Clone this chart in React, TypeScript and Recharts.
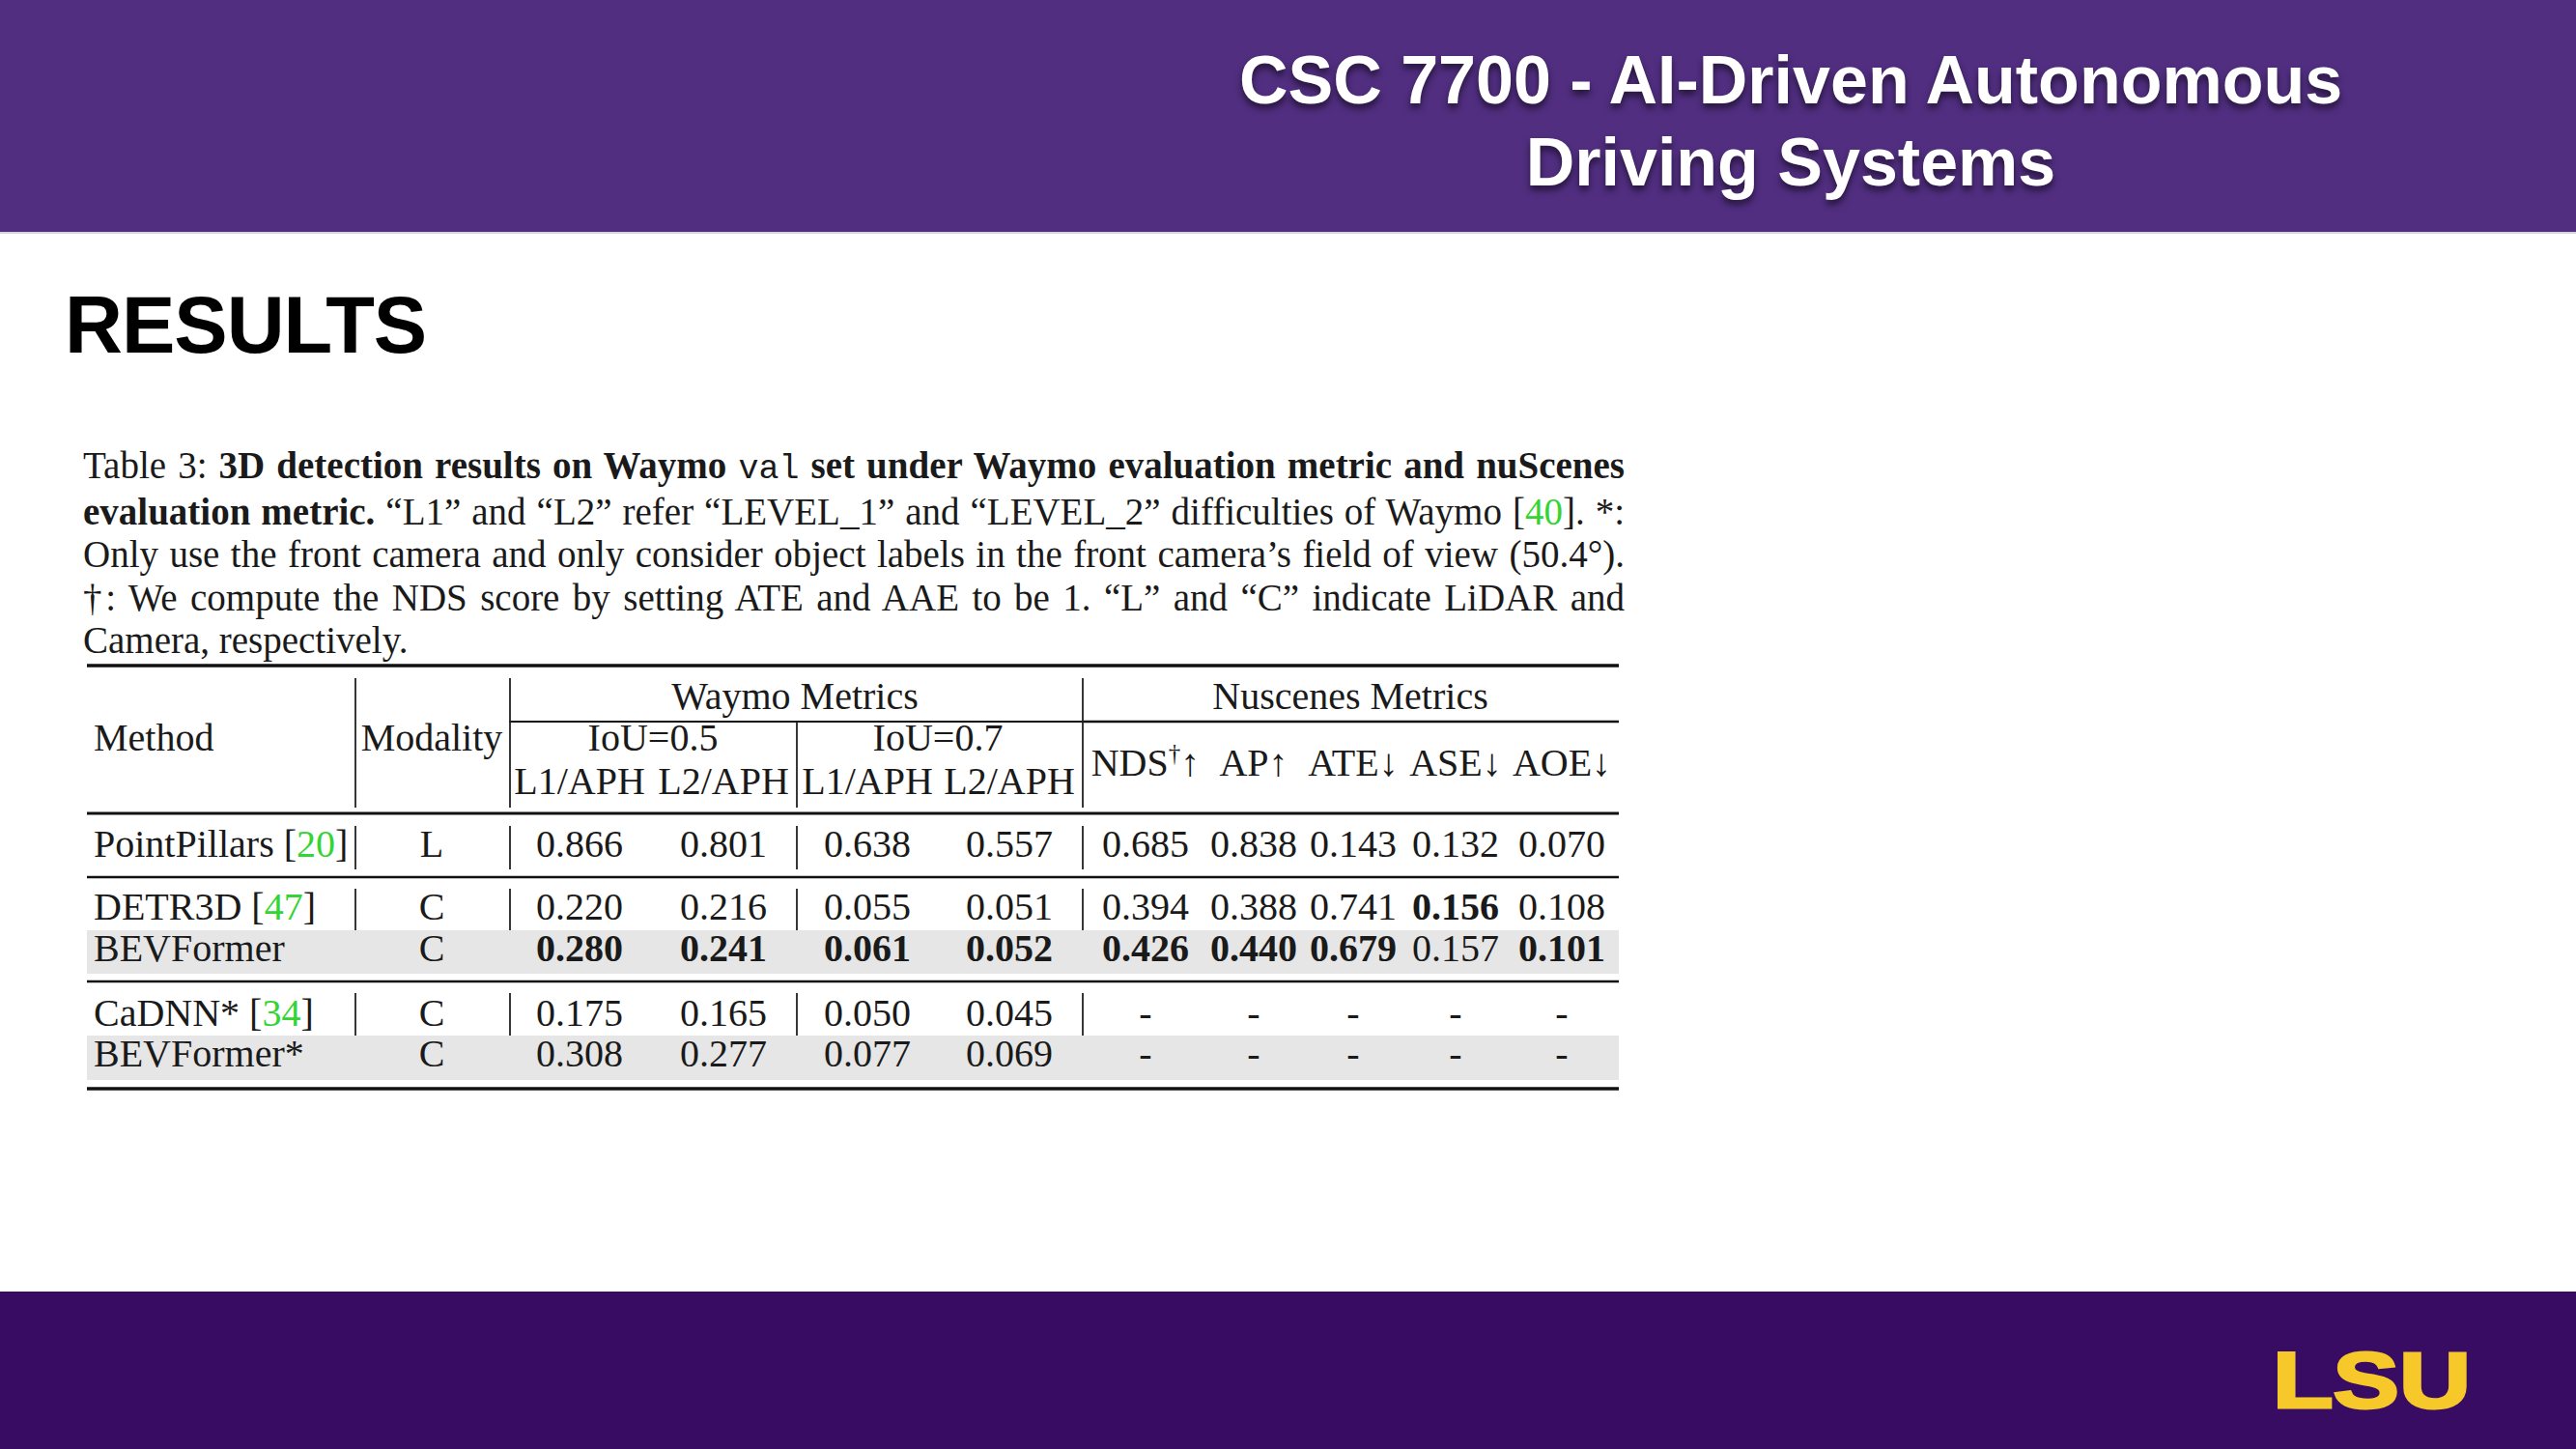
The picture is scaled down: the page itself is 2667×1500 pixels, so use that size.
import React from "react";
import {
  ScatterChart,
  Scatter,
  XAxis,
  YAxis,
  ReferenceLine,
  ReferenceArea,
} from "recharts";

// table rows
const methods = ["PointPillars", "DETR3D", "BEVFormer", "CaDNN*", "BEVFormer*"];
const citations = ["20", "47", "", "34", ""];
const modalities = ["L", "C", "C", "C", "C"];

// Waymo metrics
const l1Iou05 = [0.866, 0.22, 0.28, 0.175, 0.308];
const l2Iou05 = [0.801, 0.216, 0.241, 0.165, 0.277];
const l1Iou07 = [0.638, 0.055, 0.061, 0.05, 0.077];
const l2Iou07 = [0.557, 0.051, 0.052, 0.045, 0.069];

// nuScenes metrics (null = "-")
const ndsScores = [0.685, 0.394, 0.426, null, null];
const apScores = [0.838, 0.388, 0.44, null, null];
const ateScores = [0.143, 0.741, 0.679, null, null];
const aseScores = [0.132, 0.156, 0.157, null, null];
const aoeScores = [0.07, 0.108, 0.101, null, null];

const metricSeries = [l1Iou05, l2Iou05, l1Iou07, l2Iou07, ndsScores, apScores, ateScores, aseScores, aoeScores];
// row printed in bold for each metric column
const bestRow = [2, 2, 2, 2, 2, 2, 2, 1, 2];

const subHeaders = ["L1/APH", "L2/APH", "L1/APH", "L2/APH"];
const nuscHeaders = [
  { name: "NDS", sup: "†", arrow: "↑" },
  { name: "AP", sup: "", arrow: "↑" },
  { name: "ATE", sup: "", arrow: "↓" },
  { name: "ASE", sup: "", arrow: "↓" },
  { name: "AOE", sup: "", arrow: "↓" },
];

// layout (page pixels)
const W = 2667;
const H = 1500;
const SERIF = "'Liberation Serif', 'Times New Roman', serif";
const SANS = "'Liberation Sans', Arial, Helvetica, sans-serif";
const FS = 40;
const METHOD_X = 97;
const MODALITY_X = 447;
const COL_X = [600, 749, 898, 1045, 1186, 1298, 1401, 1507, 1617];
const ROW_Y = [873, 938, 981, 1048, 1090];
const TABLE_L = 90;
const TABLE_R = 1676;
const GREEN = "#35d435";

type Cell = {
  x: number;
  y: number;
  text: string;
  bold?: boolean;
  anchor?: "start" | "middle" | "end";
  cite?: string;
  sup?: string;
  arrow?: string;
};

const headerCells: Cell[] = [
  { x: METHOD_X, y: 763, text: "Method", anchor: "start" },
  { x: MODALITY_X, y: 763, text: "Modality" },
  { x: 823, y: 720, text: "Waymo Metrics" },
  { x: 1398, y: 720, text: "Nuscenes Metrics" },
  { x: 676, y: 763, text: "IoU=0.5" },
  { x: 971, y: 763, text: "IoU=0.7" },
  ...subHeaders.map((t, i) => ({ x: COL_X[i], y: 808, text: t })),
  ...nuscHeaders.map((h, i) => ({ x: COL_X[i + 4], y: 789, text: h.name, sup: h.sup, arrow: h.arrow })),
];

const bodyCells: Cell[] = methods.flatMap((m, r) => [
  { x: METHOD_X, y: ROW_Y[r], text: m, cite: citations[r], anchor: "start" as const },
  { x: MODALITY_X, y: ROW_Y[r], text: modalities[r] },
  ...metricSeries.map((s, c) => ({
    x: COL_X[c],
    y: ROW_Y[r],
    text: s[r] == null ? "-" : (s[r] as number).toFixed(3),
    bold: bestRow[c] === r,
  })),
]);

const TableText = (props: any) => {
  const { cx, cy, payload } = props;
  const c = payload as Cell;
  return (
    <text
      x={cx}
      y={cy}
      dy={13.5}
      textAnchor={c.anchor || "middle"}
      fontFamily={SERIF}
      fontSize={FS}
      fontWeight={c.bold ? 700 : 400}
      fill="#1a1a1a"
    >
      {c.text}
      {c.cite ? " [" : null}
      {c.cite ? <tspan fill={GREEN}>{c.cite}</tspan> : null}
      {c.cite ? "]" : null}
      {c.sup ? (
        <tspan dy={-15} fontSize={25}>
          {c.sup}
        </tspan>
      ) : null}
      {c.arrow ? <tspan dy={c.sup ? 15 : 0}>{c.arrow}</tspan> : null}
    </text>
  );
};

const hRules = [
  { y: 689, x1: TABLE_L, x2: TABLE_R, w: 3.5 },
  { y: 747, x1: 527, x2: 1121, w: 2 },
  { y: 747, x1: 1121, x2: TABLE_R, w: 2.5 },
  { y: 842, x1: TABLE_L, x2: TABLE_R, w: 3 },
  { y: 908, x1: TABLE_L, x2: TABLE_R, w: 2.5 },
  { y: 1016, x1: TABLE_L, x2: TABLE_R, w: 2.5 },
  { y: 1127, x1: TABLE_L, x2: TABLE_R, w: 3.5 },
];

const vRules = [
  { x: 368, y1: 702, y2: 836 },
  { x: 528, y1: 702, y2: 836 },
  { x: 825, y1: 747, y2: 836 },
  { x: 1121, y1: 702, y2: 836 },
  ...[
    [855, 900],
    [920, 963],
    [1028, 1072],
  ].flatMap(([a, b]) => [368, 528, 825, 1121].map((x) => ({ x, y1: a, y2: b }))),
];

const shadedRows = [
  [963, 1008],
  [1072, 1118],
];

const captionLines = [
  <>
    Table 3: <b>3D detection results on Waymo </b>
    <span style={{ fontFamily: "'Liberation Mono', monospace", fontSize: 35 }}>val</span>
    <b> set under Waymo evaluation metric and nuScenes</b>
  </>,
  <>
    <b>evaluation metric.</b> “L1” and “L2” refer “LEVEL_1” and “LEVEL_2” difficulties of Waymo [
    <span style={{ color: GREEN }}>40</span>]. *:
  </>,
  <>Only use the front camera and only consider object labels in the front camera’s field of view (50.4°).</>,
  <>†: We compute the NDS score by setting ATE and AAE to be 1. “L” and “C” indicate LiDAR and</>,
  <>Camera, respectively.</>,
];

export default function App() {
  return (
    <div style={{ position: "absolute", left: 0, top: 0, width: W, height: H, background: "#fff", overflow: "hidden" }}>
      {/* header band */}
      <div style={{ position: "absolute", left: 0, top: 0, width: W, height: 240, background: "#512e80" }} />
      <div style={{ position: "absolute", left: 0, top: 240, width: W, height: 2, background: "#d8d4de" }} />
      <div
        style={{
          position: "absolute",
          left: 954,
          top: 41,
          width: 1800,
          textAlign: "center",
          fontFamily: SANS,
          fontWeight: 700,
          fontSize: 70,
          lineHeight: "85px",
          color: "#fff",
          textShadow: "0 5px 7px rgba(0,0,0,0.55)",
        }}
      >
        CSC 7700 - AI-Driven Autonomous
        <br />
        Driving Systems
      </div>

      <div
        style={{
          position: "absolute",
          left: 67,
          top: 295,
          fontFamily: SANS,
          fontWeight: 700,
          fontSize: 83,
          lineHeight: "83px",
          letterSpacing: -1,
          color: "#000",
        }}
      >
        RESULTS
      </div>

      {/* caption */}
      <div
        style={{
          position: "absolute",
          left: 86,
          top: 460,
          width: 1596,
          fontFamily: SERIF,
          fontSize: 39,
          lineHeight: "44.2px",
          color: "#1a1a1a",
        }}
      >
        {captionLines.map((line, i) => (
          <div
            key={i}
            style={{
              whiteSpace: "nowrap",
              textAlign: "justify",
              textAlignLast: i < captionLines.length - 1 ? "justify" : "left",
            }}
          >
            {line}
          </div>
        ))}
      </div>

      {/* footer band */}
      <div style={{ position: "absolute", left: 0, top: 1337, width: W, height: H - 1337, background: "#380c63" }} />
      <svg style={{ position: "absolute", left: 0, top: 0 }} width={W} height={H}>
        <text
          x={2353}
          y={1457}
          fontFamily={SANS}
          fontWeight={900}
          fontSize={82}
          textLength={205}
          lengthAdjust="spacingAndGlyphs"
          fill="#f6c82a"
          stroke="#f6c82a"
          strokeWidth={3}
        >
          LSU
        </text>
      </svg>

      {/* table */}
      <div style={{ position: "absolute", left: 0, top: 0 }}>
        <ScatterChart width={W} height={H} margin={{ top: 0, right: 0, bottom: 0, left: 0 }}>
          <XAxis type="number" dataKey="x" domain={[0, W]} allowDataOverflow hide />
          <YAxis type="number" dataKey="y" domain={[0, H]} allowDataOverflow reversed hide />
          {shadedRows.map(([a, b], i) => (
            <ReferenceArea
              key={"a" + i}
              x1={TABLE_L}
              x2={TABLE_R}
              y1={a}
              y2={b}
              fill="#e6e6e6"
              fillOpacity={1}
              stroke="none"
            />
          ))}
          {hRules.map((r, i) => (
            <ReferenceLine
              key={"h" + i}
              segment={[
                { x: r.x1, y: r.y },
                { x: r.x2, y: r.y },
              ]}
              stroke="#111"
              strokeWidth={r.w}
            />
          ))}
          {vRules.map((r, i) => (
            <ReferenceLine
              key={"v" + i}
              segment={[
                { x: r.x, y: r.y1 },
                { x: r.x, y: r.y2 },
              ]}
              stroke="#222"
              strokeWidth={1.8}
            />
          ))}
          <Scatter data={headerCells} shape={TableText} isAnimationActive={false} />
          <Scatter data={bodyCells} shape={TableText} isAnimationActive={false} />
        </ScatterChart>
      </div>
    </div>
  );
}
